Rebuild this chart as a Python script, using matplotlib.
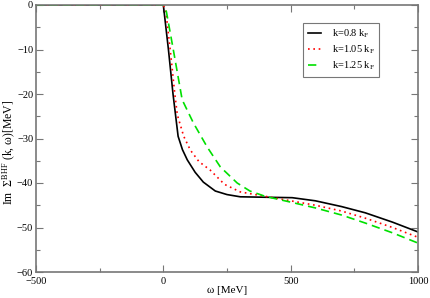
import matplotlib
matplotlib.use("Agg")
import matplotlib.pyplot as plt
from matplotlib.ticker import MultipleLocator

# data
w_k080 = [-500, -100, 0, 20, 38, 58, 75, 94, 125, 157, 204, 250, 302, 400, 506, 597, 700, 793, 900, 1000]
v_k080 = [0, 0, 0, -10, -20, -29.5, -32.5, -34.8, -37.6, -39.8, -41.8, -42.6, -43.1, -43.2, -43.3, -44, -45.3, -46.7, -48.8, -51]
w_k105 = [-500, -100, 0, 10, 27, 45, 55, 80, 106, 140, 184, 240, 302, 400, 500, 597, 700, 793, 900, 1000]
v_k105 = [0, 0, 0, -1.5, -10, -20, -24.7, -29.5, -32.6, -35.2, -37.1, -40.3, -42, -43, -44, -45, -46.3, -47.9, -50, -52.2]
w_k125 = [-500, -100, 0, 12, 39, 74, 118, 172, 224, 290, 340, 400, 500, 597, 700, 793, 900, 1000]
v_k125 = [0, 0, 0, -1.5, -10, -21.3, -26.5, -31.9, -36.4, -40, -41.8, -43, -44.3, -45.6, -47.2, -49, -51.2, -53.5]

labels = [r"k=0.8 k$_{\rm F}$", r"k=1.05 k$_{\rm F}$", r"k=1.25 k$_{\rm F}$"]

plt.rcParams['font.family'] = ['Liberation Serif', 'DejaVu Serif']
plt.rcParams['mathtext.fontset'] = 'custom'
plt.rcParams['mathtext.rm'] = 'Liberation Serif'
plt.rcParams['mathtext.it'] = 'Liberation Serif:italic'

fig = plt.figure(figsize=(4.30, 2.98), dpi=100)
ax = fig.add_axes([36/430, 1-272/298, (418-36)/430, (272-5)/298])

ax.plot(w_k080, v_k080, color='black', lw=1.2, ls='-', label=labels[0])
ax.plot(w_k105, v_k105, color='red', lw=1.2, ls=(0, (1, 2.2)), label=labels[1])
ax.plot(w_k125, v_k125, color='#00e000', lw=1.2, ls=(0, (5, 3)), label=labels[2])

ax.set_xlim(-500, 1000)
ax.set_ylim(-60, 0)
ax.xaxis.set_major_locator(MultipleLocator(500))
ax.xaxis.set_minor_locator(MultipleLocator(250))
ax.yaxis.set_major_locator(MultipleLocator(10))
ax.yaxis.set_minor_locator(MultipleLocator(5))
ax.tick_params(which='both', direction='in', top=True, right=True, colors='#777777',
               labelcolor='black', labelsize=7.5, width=0.8, pad=2)
ax.tick_params(axis='x', which='both', pad=3.5)
ax.tick_params(which='major', length=5)
ax.tick_params(which='minor', length=3)
for s in ax.spines.values():
    s.set_color('#777777')
    s.set_linewidth(1.2)

ax.set_xlabel(r"ω [MeV]", fontsize=8, labelpad=0)
ax.set_ylabel(r"Im  Σ$^{\rm BHF}$ (k, ω)[MeV]", fontsize=8.5)
ax.yaxis.set_label_coords(-18/382, (272-152)/267)

leg = ax.legend(loc='upper left', bbox_to_anchor=((303-36)/382, 1-(23-5)/267),
                fontsize=7.5, frameon=True, fancybox=False, handlelength=1.3,
                borderpad=0.45, labelspacing=0.35, handletextpad=1.0, borderaxespad=0)
leg.get_frame().set_edgecolor('#555555')
leg.get_frame().set_linewidth(0.8)

fig.savefig("out.png", dpi=100)
